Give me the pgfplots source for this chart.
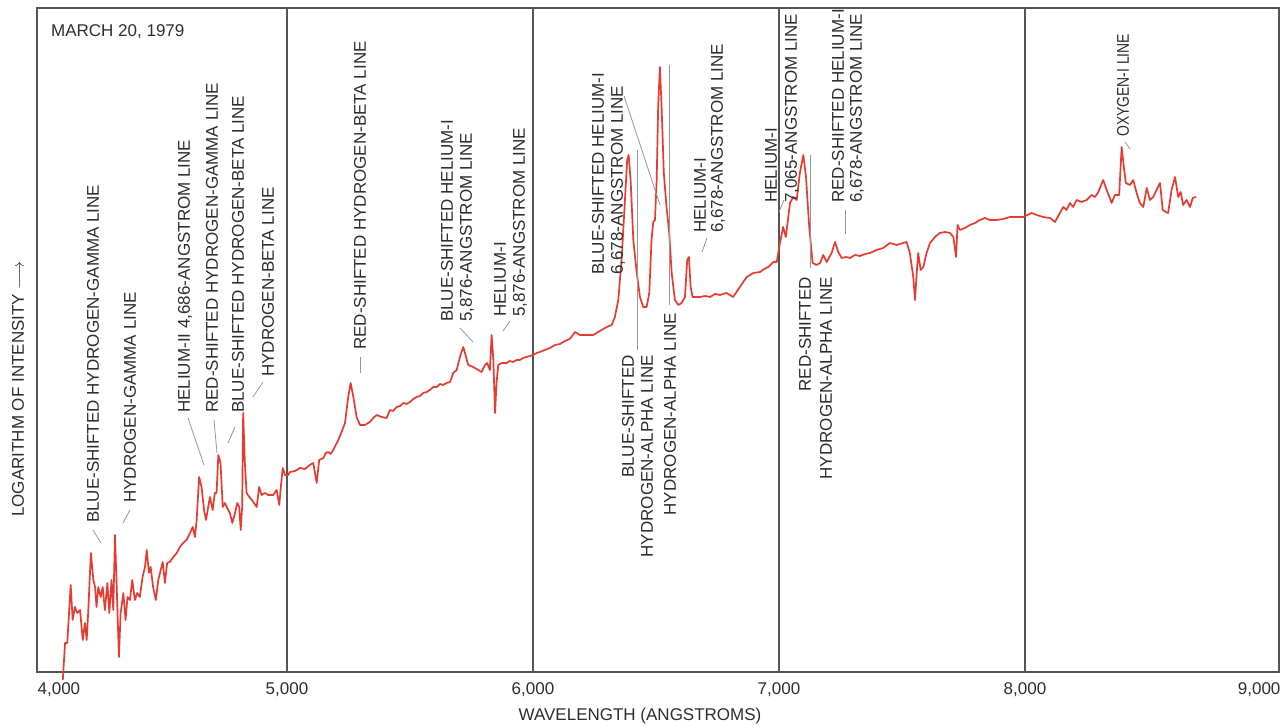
\documentclass[border=0pt]{standalone}
\usepackage{fontspec}
\setmainfont{Liberation Sans}
\usepackage{graphicx}
\usepackage{pgfplots}
\pgfplotsset{compat=1.18}
\definecolor{spec}{RGB}{232,58,48}
\definecolor{frame}{RGB}{85,85,85}
\definecolor{lead}{RGB}{150,150,150}
\definecolor{txt}{RGB}{45,45,45}
\tikzset{lab/.style={rotate=90, inner sep=0pt, font=\fontsize{17}{20}\selectfont, text=txt},
         ld/.style={draw=lead, line width=0.8pt}}
\begin{document}
\begin{tikzpicture}
\begin{axis}[
  width=1242pt, height=664pt, scale only axis,
  xmin=3984, xmax=9033, ymin=0, ymax=664,
  ytick=\empty,
  xtick={5000,6000,7000,8000},
  xticklabels={{5,000},{6,000},{7,000},{8,000}},
  extra x ticks={4073,8952},
  extra x tick labels={{4,000},{9,000}},
  extra x tick style={grid=none},
  xmajorgrids,
  major grid style={draw=frame, line width=1.3pt},
  major tick length=0pt,
  axis line style={draw=frame, line width=1.3pt},
  tick label style={font=\fontsize{17}{20}\selectfont, text=txt},
  xticklabel style={yshift=-7pt},
  /pgf/number format/assume math mode=true,
  clip=false,
]
\addplot[spec, line width=1.7pt, line join=round] coordinates {
(4089,-8) (4098,29) (4107,29) (4121,87) (4129,52) (4138,65) (4148,59) (4159,62) (4170,32) (4179,49) (4186,32) (4192,59) (4203,119) (4213,92) (4220,85) (4226,65) (4233,85) (4243,75) (4251,85) (4260,62) (4270,89) (4278,59) (4287,92) (4294,62) (4301,137) (4308,85) (4317,15) (4324,59) (4335,79) (4344,52) (4352,75) (4362,72) (4371,92) (4382,72) (4391,79) (4402,75) (4413,95) (4423,105) (4430,122) (4439,99) (4446,105) (4456,85) (4467,72) (4477,92) (4487,102) (4495,110) (4504,89) (4513,109) (4524,110) (4538,115) (4552,119) (4565,125) (4578,129) (4592,132) (4606,139) (4617,145) (4626,135) (4633,152) (4643,195) (4653,185) (4663,162) (4671,152) (4680,165) (4687,175) (4698,162) (4707,179) (4714,179) (4721,217) (4730,209) (4739,165) (4748,169) (4757,164) (4768,159) (4778,149) (4789,159) (4798,169) (4806,165) (4812,142) (4818,165) (4822,259) (4829,209) (4836,179) (4847,175) (4857,172) (4866,169) (4877,165) (4887,185) (4897,177) (4911,179) (4924,177) (4944,177) (4958,182) (4969,167) (4974,182) (4983,204) (4992,197) (5005,197)
(5012,200) (5033,201) (5053,204) (5073,203) (5093,207) (5107,209) (5121,189) (5131,212) (5148,214) (5158,219) (5168,220) (5178,218) (5188,222) (5209,232) (5222,240) (5236,249) (5249,275) (5259,289) (5270,275) (5283,255) (5297,247) (5317,247) (5337,250) (5351,254) (5365,257) (5385,255) (5405,254) (5419,262) (5432,261) (5446,265) (5460,266) (5473,269) (5487,268) (5500,270) (5514,273) (5527,275) (5541,276) (5554,279) (5568,280) (5581,282) (5595,285) (5609,285) (5622,288) (5635,287) (5649,289) (5663,290) (5676,299) (5690,302) (5703,315) (5717,325) (5728,315) (5737,307) (5757,305) (5778,302) (5791,300) (5805,307) (5814,309) (5825,302) (5832,337) (5839,312) (5846,259) (5852,289) (5859,307) (5873,309) (5893,309) (5906,311) (5920,310) (5933,312) (5947,312) (5960,314) (5974,315) (5988,316) (6001,317) (6015,319) (6028,320) (6048,322) (6069,324) (6090,327) (6110,328) (6130,331) (6150,333) (6171,340) (6191,337)
(6218,337) (6245,337) (6265,340) (6300,345) (6320,347) (6333,355) (6347,372) (6361,415) (6374,472) (6383,512) (6389,517) (6397,492) (6408,432) (6422,399) (6435,375) (6448,365) (6462,365) (6473,379) (6482,432) (6489,450) (6496,452) (6503,492) (6509,565) (6516,605) (6523,565) (6532,499) (6543,465) (6554,439) (6564,399) (6577,372) (6591,367) (6604,369) (6618,375) (6627,412) (6634,415) (6641,385) (6649,375) (6679,375) (6700,376) (6720,375) (6740,378) (6760,377) (6787,379) (6814,375) (6841,385) (6869,395) (6896,399) (6923,400) (6940,403) (6957,405) (6977,410) (6991,410) (7004,429) (7017,445) (7028,435) (7045,469) (7058,475) (7072,472) (7085,499) (7099,517) (7110,495) (7123,445) (7137,409) (7153,407) (7167,409) (7180,417) (7194,410) (7214,419) (7228,430) (7241,420) (7255,414) (7272,415) (7289,414) (7309,417) (7329,416) (7350,418) (7370,419) (7397,422) (7424,424) (7451,429) (7478,427) (7505,429) (7519,430) (7532,419) (7546,395) (7553,372) (7560,399) (7566,419) (7576,402) (7587,405) (7600,419) (7614,429) (7634,435) (7654,439) (7675,440) (7695,439) (7709,435) (7720,415) (7726,447) (7736,442) (7756,444) (7776,447) (7797,449) (7817,452) (7837,454) (7858,452) (7885,452) (7912,453) (7939,455) (7966,455) (7993,455) (8027,459) (8048,457) (8074,455) (8102,454) (8122,450) (8142,459) (8156,465) (8169,462) (8183,469) (8196,465) (8210,472) (8230,470) (8251,472) (8271,477) (8285,475) (8298,480) (8318,492) (8332,482) (8345,474) (8352,469) (8366,477) (8383,477) (8393,525) (8402,505) (8410,489) (8427,487) (8440,492) (8454,479) (8467,469) (8481,465) (8495,484) (8508,472) (8521,475) (8535,482) (8549,489) (8560,462) (8573,460) (8582,459) (8596,482) (8610,495) (8623,475) (8633,480) (8643,467) (8657,472) (8671,465) (8682,474) (8695,475)
};
\end{axis}
\begin{scope}[x=1pt, y=-1pt, shift={(-37pt,672pt)}]
% axis titles
\node[inner sep=0pt, anchor=base west, font=\fontsize{17}{20}\selectfont, text=txt] at (51,37) {MARCH 20, 1979};
\node[inner sep=0pt, font=\fontsize{17}{20}\selectfont, text=txt] at (640,716) {WAVELENGTH (ANGSTROMS)};
\node[lab, anchor=west] at (18,517) {LOGARITHM OF INTENSITY $\longrightarrow$};
% labels above
\node[lab, anchor=west] at (93,523) {BLUE-SHIFTED HYDROGEN-GAMMA LINE};
\node[lab, anchor=west] at (130,503) {HYDROGEN-GAMMA LINE};
\node[lab, anchor=west] at (185,413) {HELIUM-II 4,686-ANGSTROM LINE};
\node[lab, anchor=west] at (212,413) {RED-SHIFTED HYDROGEN-GAMMA LINE};
\node[lab, anchor=west] at (238,413) {BLUE-SHIFTED HYDROGEN-BETA LINE};
\node[lab, anchor=west] at (268,377) {HYDROGEN-BETA LINE};
\node[lab, anchor=west] at (360,350) {RED-SHIFTED HYDROGEN-BETA LINE};
\node[lab, anchor=west] at (447,322) {BLUE-SHIFTED HELIUM-I};
\node[lab, anchor=west] at (467,322) {5,876-ANGSTROM LINE};
\node[lab, anchor=west] at (500,317) {HELIUM-I};
\node[lab, anchor=west] at (520,317) {5,876-ANGSTROM LINE};
\node[lab, anchor=west] at (598,275) {BLUE-SHIFTED HELIUM-I};
\node[lab, anchor=west] at (618,275) {6,678-ANGSTROM LINE};
\node[lab, anchor=west] at (700,233) {HELIUM-I};
\node[lab, anchor=west] at (718,233) {6,678-ANGSTROM LINE};
\node[lab, anchor=west] at (771,203) {HELIUM-I};
\node[lab, anchor=west] at (792,203) {7,065-ANGSTROM LINE};
\node[lab, anchor=west] at (838,203) {RED-SHIFTED HELIUM-I};
\node[lab, anchor=west] at (857,203) {6,678-ANGSTROM LINE};
\node[lab, anchor=west] at (1123,137) {\scalebox{0.82}[1]{OXYGEN-I LINE}};
% labels below
\node[lab, anchor=east] at (628,355) {BLUE-SHIFTED};
\node[lab, anchor=east] at (647,355) {HYDROGEN-ALPHA LINE};
\node[lab, anchor=east] at (670,313) {HYDROGEN-ALPHA LINE};
\node[lab, anchor=east] at (805,277) {RED-SHIFTED};
\node[lab, anchor=east] at (826,277) {HYDROGEN-ALPHA LINE};
% leader lines
\draw[ld] (93,530)--(101,543);
\draw[ld] (130,510)--(123,523);
\draw[ld] (188,418)--(204,465);
\draw[ld] (214,420)--(217,453);
\draw[ld] (235,427)--(228,443);
\draw[ld] (263,382)--(253,397);
\draw[ld] (360,357)--(360,373);
\draw[ld] (460,328)--(473,342);
\draw[ld] (510,321)--(503,331);
\draw[ld] (624,96)--(660,205);
\draw[ld] (637,150)--(637,350);
\draw[ld] (669,65)--(669,305);
\draw[ld] (707,238)--(702,252);
\draw[ld] (784,200)--(779,212);
\draw[ld] (810,155)--(810,268);
\draw[ld] (845,210)--(845,234);
\draw[ld] (1125,142)--(1130,149);
\end{scope}
\pgfresetboundingbox
\path (-37pt,-55pt) rectangle (1244pt,672pt);
\end{tikzpicture}
\end{document}
